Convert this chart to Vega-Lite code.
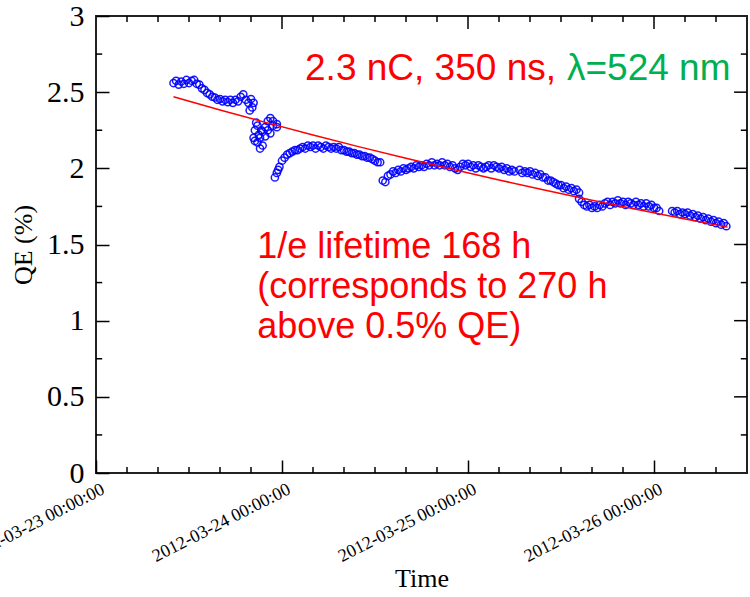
{
  "$schema": "https://vega.github.io/schema/vega-lite/v6.json",
  "width": 651,
  "height": 457,
  "autosize": "none",
  "padding": {"left": 96, "top": 16, "right": 3, "bottom": 124},
  "background": "white",
  "config": {
    "view": {"stroke": "#222222", "strokeWidth": 2}
  },
  "datasets": {
    "qe": [
      {"t": "2012-03-23T10:00", "qe": 2.56}, {"t": "2012-03-23T10:20", "qe": 2.575}, {"t": "2012-03-23T10:40", "qe": 2.55}, {"t": "2012-03-23T11:00", "qe": 2.57},
      {"t": "2012-03-23T11:20", "qe": 2.555}, {"t": "2012-03-23T11:40", "qe": 2.58}, {"t": "2012-03-23T12:00", "qe": 2.56}, {"t": "2012-03-23T12:20", "qe": 2.575},
      {"t": "2012-03-23T12:40", "qe": 2.58}, {"t": "2012-03-23T13:00", "qe": 2.555}, {"t": "2012-03-23T13:20", "qe": 2.55}, {"t": "2012-03-23T13:40", "qe": 2.525},
      {"t": "2012-03-23T14:00", "qe": 2.515}, {"t": "2012-03-23T14:20", "qe": 2.495}, {"t": "2012-03-23T14:40", "qe": 2.485}, {"t": "2012-03-23T15:00", "qe": 2.47},
      {"t": "2012-03-23T15:20", "qe": 2.465}, {"t": "2012-03-23T15:40", "qe": 2.45}, {"t": "2012-03-23T16:00", "qe": 2.455}, {"t": "2012-03-23T16:20", "qe": 2.44},
      {"t": "2012-03-23T16:40", "qe": 2.45}, {"t": "2012-03-23T17:00", "qe": 2.435}, {"t": "2012-03-23T17:20", "qe": 2.45}, {"t": "2012-03-23T17:40", "qe": 2.43},
      {"t": "2012-03-23T18:00", "qe": 2.45}, {"t": "2012-03-23T18:20", "qe": 2.44}, {"t": "2012-03-23T18:40", "qe": 2.47}, {"t": "2012-03-23T19:00", "qe": 2.485},
      {"t": "2012-03-23T19:20", "qe": 2.45}, {"t": "2012-03-23T19:40", "qe": 2.43}, {"t": "2012-03-23T19:50", "qe": 2.38}, {"t": "2012-03-23T20:00", "qe": 2.455},
      {"t": "2012-03-23T20:10", "qe": 2.40}, {"t": "2012-03-23T20:20", "qe": 2.43},
      {"t": "2012-03-23T20:20", "qe": 2.20}, {"t": "2012-03-23T20:30", "qe": 2.18}, {"t": "2012-03-23T20:30", "qe": 2.25}, {"t": "2012-03-23T20:40", "qe": 2.30},
      {"t": "2012-03-23T20:50", "qe": 2.17}, {"t": "2012-03-23T20:50", "qe": 2.28}, {"t": "2012-03-23T21:00", "qe": 2.22}, {"t": "2012-03-23T21:10", "qe": 2.13},
      {"t": "2012-03-23T21:10", "qe": 2.20}, {"t": "2012-03-23T21:20", "qe": 2.25}, {"t": "2012-03-23T21:30", "qe": 2.15}, {"t": "2012-03-23T21:30", "qe": 2.24},
      {"t": "2012-03-23T21:50", "qe": 2.21}, {"t": "2012-03-23T21:50", "qe": 2.27}, {"t": "2012-03-23T22:10", "qe": 2.25}, {"t": "2012-03-23T22:10", "qe": 2.31},
      {"t": "2012-03-23T22:30", "qe": 2.23}, {"t": "2012-03-23T22:30", "qe": 2.33}, {"t": "2012-03-23T22:50", "qe": 2.31}, {"t": "2012-03-23T22:50", "qe": 2.28},
      {"t": "2012-03-23T23:20", "qe": 2.29}, {"t": "2012-03-23T23:20", "qe": 2.27},
      {"t": "2012-03-23T23:05", "qe": 1.94}, {"t": "2012-03-23T23:20", "qe": 1.97}, {"t": "2012-03-23T23:30", "qe": 1.99}, {"t": "2012-03-23T23:40", "qe": 2.01},
      {"t": "2012-03-24T00:00", "qe": 2.05}, {"t": "2012-03-24T00:20", "qe": 2.07}, {"t": "2012-03-24T00:40", "qe": 2.09}, {"t": "2012-03-24T01:00", "qe": 2.10},
      {"t": "2012-03-24T01:20", "qe": 2.11}, {"t": "2012-03-24T01:40", "qe": 2.12}, {"t": "2012-03-24T02:00", "qe": 2.12}, {"t": "2012-03-24T02:20", "qe": 2.13},
      {"t": "2012-03-24T02:40", "qe": 2.14}, {"t": "2012-03-24T03:00", "qe": 2.13}, {"t": "2012-03-24T03:20", "qe": 2.15}, {"t": "2012-03-24T03:40", "qe": 2.14},
      {"t": "2012-03-24T04:00", "qe": 2.15}, {"t": "2012-03-24T04:20", "qe": 2.13}, {"t": "2012-03-24T04:40", "qe": 2.15}, {"t": "2012-03-24T05:00", "qe": 2.14},
      {"t": "2012-03-24T05:20", "qe": 2.13}, {"t": "2012-03-24T05:40", "qe": 2.15}, {"t": "2012-03-24T06:00", "qe": 2.14}, {"t": "2012-03-24T06:20", "qe": 2.13},
      {"t": "2012-03-24T06:40", "qe": 2.14}, {"t": "2012-03-24T07:00", "qe": 2.13}, {"t": "2012-03-24T07:20", "qe": 2.14}, {"t": "2012-03-24T07:40", "qe": 2.12},
      {"t": "2012-03-24T08:00", "qe": 2.12}, {"t": "2012-03-24T08:20", "qe": 2.11}, {"t": "2012-03-24T08:40", "qe": 2.11}, {"t": "2012-03-24T09:00", "qe": 2.10},
      {"t": "2012-03-24T09:20", "qe": 2.10}, {"t": "2012-03-24T09:40", "qe": 2.09}, {"t": "2012-03-24T10:00", "qe": 2.09}, {"t": "2012-03-24T10:20", "qe": 2.08},
      {"t": "2012-03-24T10:40", "qe": 2.08}, {"t": "2012-03-24T11:00", "qe": 2.07}, {"t": "2012-03-24T11:20", "qe": 2.07}, {"t": "2012-03-24T11:40", "qe": 2.06},
      {"t": "2012-03-24T12:00", "qe": 2.05}, {"t": "2012-03-24T12:20", "qe": 2.04}, {"t": "2012-03-24T12:40", "qe": 2.04},
      {"t": "2012-03-24T13:00", "qe": 1.92}, {"t": "2012-03-24T13:20", "qe": 1.91}, {"t": "2012-03-24T13:40", "qe": 1.95}, {"t": "2012-03-24T14:00", "qe": 1.96},
      {"t": "2012-03-24T14:20", "qe": 1.98}, {"t": "2012-03-24T14:40", "qe": 1.97}, {"t": "2012-03-24T15:00", "qe": 1.99}, {"t": "2012-03-24T15:20", "qe": 1.98},
      {"t": "2012-03-24T15:40", "qe": 2.00}, {"t": "2012-03-24T16:00", "qe": 1.99}, {"t": "2012-03-24T16:20", "qe": 2.00}, {"t": "2012-03-24T16:40", "qe": 2.01},
      {"t": "2012-03-24T17:00", "qe": 2.00}, {"t": "2012-03-24T17:20", "qe": 2.02}, {"t": "2012-03-24T17:40", "qe": 2.01}, {"t": "2012-03-24T18:00", "qe": 2.02},
      {"t": "2012-03-24T18:20", "qe": 2.01}, {"t": "2012-03-24T18:40", "qe": 2.03}, {"t": "2012-03-24T19:00", "qe": 2.02}, {"t": "2012-03-24T19:20", "qe": 2.04},
      {"t": "2012-03-24T19:40", "qe": 2.02}, {"t": "2012-03-24T20:00", "qe": 2.03}, {"t": "2012-03-24T20:20", "qe": 2.02}, {"t": "2012-03-24T20:40", "qe": 2.04},
      {"t": "2012-03-24T21:00", "qe": 2.02}, {"t": "2012-03-24T21:20", "qe": 2.03}, {"t": "2012-03-24T21:40", "qe": 2.01}, {"t": "2012-03-24T22:00", "qe": 2.02},
      {"t": "2012-03-24T22:20", "qe": 2.00}, {"t": "2012-03-24T22:40", "qe": 1.99}, {"t": "2012-03-24T23:00", "qe": 2.01}, {"t": "2012-03-24T23:20", "qe": 2.03},
      {"t": "2012-03-24T23:40", "qe": 2.02}, {"t": "2012-03-25T00:00", "qe": 2.03}, {"t": "2012-03-25T00:20", "qe": 2.01}, {"t": "2012-03-25T00:40", "qe": 2.02},
      {"t": "2012-03-25T01:00", "qe": 2.00}, {"t": "2012-03-25T01:20", "qe": 2.02}, {"t": "2012-03-25T01:40", "qe": 2.01}, {"t": "2012-03-25T02:00", "qe": 2.00},
      {"t": "2012-03-25T02:20", "qe": 2.01}, {"t": "2012-03-25T02:40", "qe": 2.02}, {"t": "2012-03-25T03:00", "qe": 2.00}, {"t": "2012-03-25T03:20", "qe": 2.02},
      {"t": "2012-03-25T03:40", "qe": 2.01}, {"t": "2012-03-25T04:00", "qe": 2.00}, {"t": "2012-03-25T04:20", "qe": 2.01}, {"t": "2012-03-25T04:40", "qe": 1.99},
      {"t": "2012-03-25T05:00", "qe": 2.00}, {"t": "2012-03-25T05:20", "qe": 1.98}, {"t": "2012-03-25T05:40", "qe": 1.99}, {"t": "2012-03-25T06:00", "qe": 1.98},
      {"t": "2012-03-25T06:40", "qe": 1.99}, {"t": "2012-03-25T07:00", "qe": 1.97}, {"t": "2012-03-25T07:20", "qe": 1.98}, {"t": "2012-03-25T07:40", "qe": 1.97},
      {"t": "2012-03-25T08:00", "qe": 1.98}, {"t": "2012-03-25T08:20", "qe": 1.96}, {"t": "2012-03-25T08:40", "qe": 1.97}, {"t": "2012-03-25T09:00", "qe": 1.95},
      {"t": "2012-03-25T09:20", "qe": 1.96}, {"t": "2012-03-25T09:40", "qe": 1.94}, {"t": "2012-03-25T10:00", "qe": 1.94}, {"t": "2012-03-25T10:20", "qe": 1.92},
      {"t": "2012-03-25T10:40", "qe": 1.92}, {"t": "2012-03-25T11:00", "qe": 1.91}, {"t": "2012-03-25T11:20", "qe": 1.90}, {"t": "2012-03-25T11:40", "qe": 1.89},
      {"t": "2012-03-25T12:00", "qe": 1.89}, {"t": "2012-03-25T12:20", "qe": 1.87}, {"t": "2012-03-25T12:40", "qe": 1.88}, {"t": "2012-03-25T13:00", "qe": 1.86},
      {"t": "2012-03-25T13:20", "qe": 1.87}, {"t": "2012-03-25T13:40", "qe": 1.85}, {"t": "2012-03-25T14:00", "qe": 1.86}, {"t": "2012-03-25T14:20", "qe": 1.84},
      {"t": "2012-03-25T14:20", "qe": 1.80}, {"t": "2012-03-25T14:40", "qe": 1.78}, {"t": "2012-03-25T15:00", "qe": 1.76}, {"t": "2012-03-25T15:20", "qe": 1.75},
      {"t": "2012-03-25T15:40", "qe": 1.76}, {"t": "2012-03-25T16:00", "qe": 1.74}, {"t": "2012-03-25T16:20", "qe": 1.75}, {"t": "2012-03-25T16:40", "qe": 1.74},
      {"t": "2012-03-25T17:00", "qe": 1.76}, {"t": "2012-03-25T17:20", "qe": 1.75}, {"t": "2012-03-25T17:40", "qe": 1.77}, {"t": "2012-03-25T18:00", "qe": 1.78},
      {"t": "2012-03-25T18:20", "qe": 1.76}, {"t": "2012-03-25T18:40", "qe": 1.78}, {"t": "2012-03-25T19:00", "qe": 1.77}, {"t": "2012-03-25T19:20", "qe": 1.79},
      {"t": "2012-03-25T19:40", "qe": 1.77}, {"t": "2012-03-25T20:00", "qe": 1.78}, {"t": "2012-03-25T20:20", "qe": 1.76}, {"t": "2012-03-25T20:40", "qe": 1.78},
      {"t": "2012-03-25T21:00", "qe": 1.77}, {"t": "2012-03-25T21:20", "qe": 1.76}, {"t": "2012-03-25T21:40", "qe": 1.78}, {"t": "2012-03-25T22:00", "qe": 1.76},
      {"t": "2012-03-25T22:20", "qe": 1.77}, {"t": "2012-03-25T22:40", "qe": 1.75}, {"t": "2012-03-25T23:00", "qe": 1.77}, {"t": "2012-03-25T23:20", "qe": 1.75},
      {"t": "2012-03-25T23:40", "qe": 1.76}, {"t": "2012-03-26T00:00", "qe": 1.74}, {"t": "2012-03-26T00:20", "qe": 1.74}, {"t": "2012-03-26T00:40", "qe": 1.72},
      {"t": "2012-03-26T02:20", "qe": 1.72}, {"t": "2012-03-26T02:40", "qe": 1.71}, {"t": "2012-03-26T03:00", "qe": 1.72}, {"t": "2012-03-26T03:20", "qe": 1.70},
      {"t": "2012-03-26T03:40", "qe": 1.71}, {"t": "2012-03-26T04:00", "qe": 1.70}, {"t": "2012-03-26T04:20", "qe": 1.71}, {"t": "2012-03-26T04:40", "qe": 1.69},
      {"t": "2012-03-26T05:00", "qe": 1.70}, {"t": "2012-03-26T05:20", "qe": 1.68}, {"t": "2012-03-26T05:40", "qe": 1.69}, {"t": "2012-03-26T06:00", "qe": 1.67},
      {"t": "2012-03-26T06:20", "qe": 1.68}, {"t": "2012-03-26T06:40", "qe": 1.66}, {"t": "2012-03-26T07:00", "qe": 1.67}, {"t": "2012-03-26T07:20", "qe": 1.65},
      {"t": "2012-03-26T07:40", "qe": 1.66}, {"t": "2012-03-26T08:00", "qe": 1.64}, {"t": "2012-03-26T08:20", "qe": 1.65}, {"t": "2012-03-26T08:40", "qe": 1.63},
      {"t": "2012-03-26T09:00", "qe": 1.64}, {"t": "2012-03-26T09:20", "qe": 1.62}
    ],
    "fit": [
      {"t": "2012-03-23T10:00", "qe": 2.470}, {"t": "2012-03-23T16:00", "qe": 2.383}, {"t": "2012-03-23T22:00", "qe": 2.300},
      {"t": "2012-03-24T04:00", "qe": 2.219}, {"t": "2012-03-24T10:00", "qe": 2.141}, {"t": "2012-03-24T16:00", "qe": 2.066},
      {"t": "2012-03-24T22:00", "qe": 1.994}, {"t": "2012-03-25T04:00", "qe": 1.924}, {"t": "2012-03-25T10:00", "qe": 1.856},
      {"t": "2012-03-25T16:00", "qe": 1.791}, {"t": "2012-03-25T22:00", "qe": 1.728}, {"t": "2012-03-26T04:00", "qe": 1.668},
      {"t": "2012-03-26T09:30", "qe": 1.614}
    ],
    "xmajor": [
      {"t": "2012-03-24T00:00"}, {"t": "2012-03-25T00:00"}, {"t": "2012-03-26T00:00"}
    ],
    "xminor": [
      {"t": "2012-03-23T04:00"}, {"t": "2012-03-23T08:00"}, {"t": "2012-03-23T12:00"}, {"t": "2012-03-23T16:00"}, {"t": "2012-03-23T20:00"},
      {"t": "2012-03-24T04:00"}, {"t": "2012-03-24T08:00"}, {"t": "2012-03-24T12:00"}, {"t": "2012-03-24T16:00"}, {"t": "2012-03-24T20:00"},
      {"t": "2012-03-25T04:00"}, {"t": "2012-03-25T08:00"}, {"t": "2012-03-25T12:00"}, {"t": "2012-03-25T16:00"}, {"t": "2012-03-25T20:00"},
      {"t": "2012-03-26T04:00"}, {"t": "2012-03-26T08:00"}
    ],
    "ymajor": [{"v": 0.5}, {"v": 1}, {"v": 1.5}, {"v": 2}, {"v": 2.5}],
    "yminor": [{"v": 0.25}, {"v": 0.75}, {"v": 1.25}, {"v": 1.75}, {"v": 2.25}, {"v": 2.75}]
  },
  "layer": [
    {
      "data": {"name": "qe"},
      "mark": {"type": "point", "shape": "circle", "filled": false, "color": "#0000ff", "size": 52, "strokeWidth": 1.5, "opacity": 0.9},
      "encoding": {
        "x": {
          "field": "t", "type": "temporal", "title": "Time",
          "scale": {"domain": [{"year": 2012, "month": 3, "date": 23, "hours": 0}, {"year": 2012, "month": 3, "date": 26, "hours": 12}]},
          "axis": {
            "title": "Time", "titleFont": "Liberation Serif", "titleFontSize": 26, "titleFontWeight": "normal", "titleColor": "black", "titlePadding": 0,
            "domain": false, "grid": false,
            "tickCount": {"interval": "day", "step": 1}, "tickSize": -13, "tickColor": "black", "tickWidth": 1.5,
            "format": "%Y-%m-%d %H:%M:%S", "labelAngle": -27, "labelAlign": "right", "labelBaseline": "top",
            "labelFont": "Liberation Serif", "labelFontSize": 18, "labelColor": "black", "labelPadding": 20, "labelOffset": 3, "labelFlush": false
          }
        },
        "y": {
          "field": "qe", "type": "quantitative", "title": "QE (%)",
          "scale": {"domain": [0, 3], "nice": false},
          "axis": {
            "title": "QE (%)", "titleFont": "Liberation Serif", "titleFontSize": 26, "titleFontWeight": "normal", "titleColor": "black", "titlePadding": 10,
            "domain": false, "grid": false,
            "values": [0, 0.5, 1, 1.5, 2, 2.5, 3], "format": "~g", "tickSize": -13, "tickColor": "black", "tickWidth": 1.5,
            "labelFont": "Liberation Serif", "labelFontSize": 30, "labelColor": "black", "labelPadding": 25
          }
        }
      }
    },
    {
      "data": {"name": "fit"},
      "mark": {"type": "line", "color": "#ff0000", "strokeWidth": 1.5},
      "encoding": {
        "x": {"field": "t", "type": "temporal", "title": "Time"},
        "y": {"field": "qe", "type": "quantitative", "title": "QE (%)"}
      }
    },
    {
      "data": {"name": "xminor"},
      "mark": {"type": "rule", "color": "black", "strokeWidth": 1.5},
      "encoding": {
        "x": {"field": "t", "type": "temporal", "title": "Time"},
        "y": {"datum": 0},
        "y2": {"datum": 0.04}
      }
    },
    {
      "data": {"name": "xmajor"},
      "mark": {"type": "rule", "color": "black", "strokeWidth": 1.5},
      "encoding": {
        "x": {"field": "t", "type": "temporal", "title": "Time"},
        "y": {"datum": 3},
        "y2": {"datum": 2.915}
      }
    },
    {
      "data": {"name": "xminor"},
      "mark": {"type": "rule", "color": "black", "strokeWidth": 1.5},
      "encoding": {
        "x": {"field": "t", "type": "temporal", "title": "Time"},
        "y": {"datum": 3},
        "y2": {"datum": 2.96}
      }
    },
    {
      "data": {"name": "yminor"},
      "mark": {"type": "rule", "color": "black", "strokeWidth": 1.5},
      "encoding": {
        "y": {"field": "v", "type": "quantitative", "title": "QE (%)"},
        "x": {"datum": {"year": 2012, "month": 3, "date": 23, "hours": 0}, "type": "temporal"},
        "x2": {"datum": {"year": 2012, "month": 3, "date": 23, "hours": 0, "minutes": 48}}
      }
    },
    {
      "data": {"name": "ymajor"},
      "mark": {"type": "rule", "color": "black", "strokeWidth": 1.5},
      "encoding": {
        "y": {"field": "v", "type": "quantitative", "title": "QE (%)"},
        "x": {"datum": {"year": 2012, "month": 3, "date": 26, "hours": 12}, "type": "temporal"},
        "x2": {"datum": {"year": 2012, "month": 3, "date": 26, "hours": 10, "minutes": 20}}
      }
    },
    {
      "data": {"name": "yminor"},
      "mark": {"type": "rule", "color": "black", "strokeWidth": 1.5},
      "encoding": {
        "y": {"field": "v", "type": "quantitative", "title": "QE (%)"},
        "x": {"datum": {"year": 2012, "month": 3, "date": 26, "hours": 12}, "type": "temporal"},
        "x2": {"datum": {"year": 2012, "month": 3, "date": 26, "hours": 11, "minutes": 12}}
      }
    },
    {
      "data": {"values": [{}]},
      "mark": {"type": "text", "color": "#ff0000", "font": "Liberation Sans", "fontSize": 37, "align": "right", "baseline": "alphabetic", "dx": -5},
      "encoding": {
        "x": {"datum": {"year": 2012, "month": 3, "date": 25, "hours": 12}, "type": "temporal"},
        "y": {"datum": 2.58},
        "text": {"value": "2.3 nC, 350 ns,"}
      }
    },
    {
      "data": {"values": [{}]},
      "mark": {"type": "text", "color": "#00b050", "font": "Liberation Sans", "fontSize": 37, "align": "left", "baseline": "alphabetic", "dx": 6},
      "encoding": {
        "x": {"datum": {"year": 2012, "month": 3, "date": 25, "hours": 12}, "type": "temporal"},
        "y": {"datum": 2.58},
        "text": {"value": "λ=524 nm"}
      }
    },
    {
      "data": {"values": [{}]},
      "mark": {"type": "text", "color": "#ff0000", "font": "Liberation Sans", "fontSize": 36, "align": "left", "baseline": "alphabetic", "lineHeight": 40},
      "encoding": {
        "x": {"datum": {"year": 2012, "month": 3, "date": 23, "hours": 20, "minutes": 48}, "type": "temporal"},
        "y": {"datum": 1.413},
        "text": {"value": ["1/e lifetime 168 h", "(corresponds to 270 h", "above 0.5% QE)"]}
      }
    }
  ]
}
